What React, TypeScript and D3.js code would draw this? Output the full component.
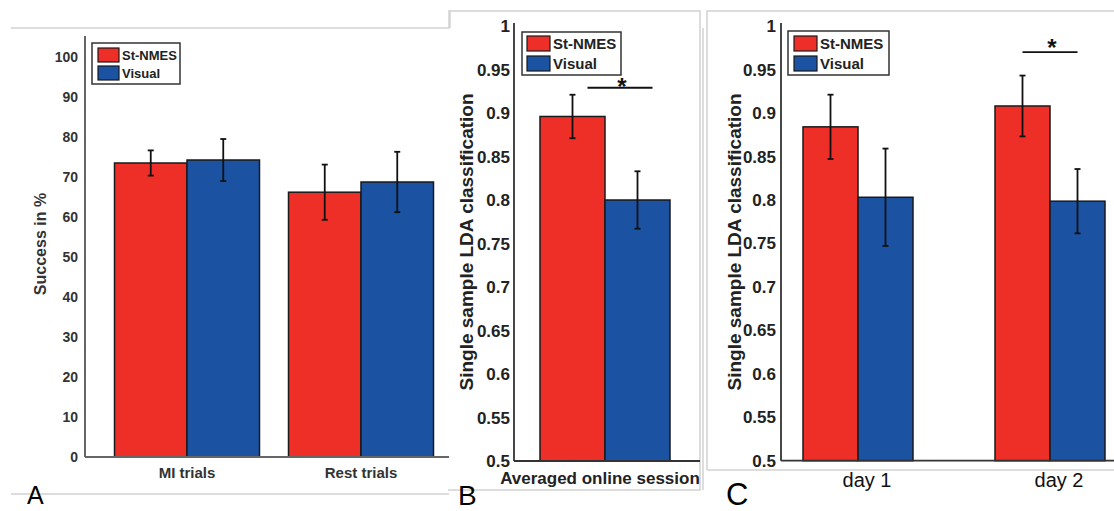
import React from "react";
import * as d3 from "d3";

// Series shared by all three panels
const SERIES = ["St-NMES", "Visual"];
const SERIES_COLORS = ["#EE2F28", "#1B52A2"];

// Panel A: success rate per trial type (mean ± error)
const trialTypes = ["MI trials", "Rest trials"];
const successStNmes = [73.5, 66.2];
const successStNmesErr = [3.15, 6.9];
const successVisual = [74.25, 68.75];
const successVisualErr = [5.25, 7.55];
const successTicks = [0, 10, 20, 30, 40, 50, 60, 70, 80, 90, 100];

// Panel B: single-sample LDA classification, averaged online session
const sessions = ["Averaged online session"];
const ldaAvgStNmes = [0.896];
const ldaAvgStNmesErr = [0.025];
const ldaAvgVisual = [0.8];
const ldaAvgVisualErr = [0.033];

// Panel C: single-sample LDA classification per day
const days = ["day 1", "day 2"];
const ldaDayStNmes = [0.884, 0.908];
const ldaDayStNmesErr = [0.037, 0.035];
const ldaDayVisual = [0.803, 0.7985];
const ldaDayVisualErr = [0.056, 0.037];

const ldaTicks = [0.5, 0.55, 0.6, 0.65, 0.7, 0.75, 0.8, 0.85, 0.9, 0.95, 1];

const FONT = "'Liberation Sans', Arial, Helvetica, sans-serif";

type Sig = { category: string; value: number; shift: number; starGap: number };

type PanelProps = {
  categories: string[];
  values: number[][];
  errors: number[][];
  ticks: number[];
  yDomain: [number, number];
  yRange: [number, number];
  axisTop: number;
  axisX: number;
  axisRight: number;
  bandRange: [number, number];
  paddingInner: number;
  paddingOuter: number;
  axisColor: string;
  axisWidth: number;
  tickColor: string;
  tickSize: number;
  tickX: number;
  legend: { x: number; y: number; w: number; h: number; sw: number; sh: number; pad: number; gap: number; font: number };
  xLabel: { y: number; size: number; weight: string; dx: number; color: string; center?: number };
  yLabel: { text: string; x: number; y: number; size: number; color: string };
  sig?: Sig;
};

function BarPanel(p: PanelProps) {
  const y = d3.scaleLinear().domain(p.yDomain).range(p.yRange);
  const x = d3
    .scaleBand<string>()
    .domain(p.categories)
    .range(p.bandRange)
    .paddingInner(p.paddingInner)
    .paddingOuter(p.paddingOuter);
  const xs = d3.scaleBand<string>().domain(SERIES).range([0, x.bandwidth()]).padding(0);
  const base = y(p.yDomain[0]);
  const capHalf = 3;

  return (
    <g fontFamily={FONT}>
      {/* bars */}
      {p.categories.map((c, ci) =>
        SERIES.map((s, si) => {
          const v = p.values[si][ci];
          const bx = (x(c) ?? 0) + (xs(s) ?? 0);
          return (
            <rect
              key={c + s}
              x={bx}
              y={y(v)}
              width={xs.bandwidth()}
              height={base - y(v)}
              fill={SERIES_COLORS[si]}
              stroke="#1a1a1a"
              strokeWidth={1.5}
            />
          );
        })
      )}
      {/* error bars */}
      {p.categories.map((c, ci) =>
        SERIES.map((s, si) => {
          const v = p.values[si][ci];
          const e = p.errors[si][ci];
          const cx = (x(c) ?? 0) + (xs(s) ?? 0) + xs.bandwidth() / 2;
          return (
            <g key={"e" + c + s} stroke="#111" strokeWidth={1.8}>
              <line x1={cx} x2={cx} y1={y(v + e)} y2={y(v - e)} />
              <line x1={cx - capHalf} x2={cx + capHalf} y1={y(v + e)} y2={y(v + e)} />
              <line x1={cx - capHalf} x2={cx + capHalf} y1={y(v - e)} y2={y(v - e)} />
            </g>
          );
        })
      )}
      {/* axes */}
      <line x1={p.axisX} x2={p.axisX} y1={p.axisTop} y2={base} stroke={p.axisColor} strokeWidth={p.axisWidth} />
      <line x1={p.axisX} x2={p.axisRight} y1={base} y2={base} stroke={p.axisColor} strokeWidth={p.axisWidth} />
      {p.ticks.map((t) => (
        <text
          key={"t" + t}
          x={p.tickX}
          y={y(t)}
          dy="0.36em"
          textAnchor="end"
          fontSize={p.tickSize}
          fontWeight="bold"
          fill={p.tickColor}
        >
          {String(t)}
        </text>
      ))}
      {/* category labels */}
      {p.categories.map((c) => (
        <text
          key={"c" + c}
          x={p.xLabel.center ?? (x(c) ?? 0) + x.bandwidth() / 2 + p.xLabel.dx}
          y={p.xLabel.y}
          textAnchor="middle"
          fontSize={p.xLabel.size}
          fontWeight={p.xLabel.weight}
          fill={p.xLabel.color}
        >
          {c}
        </text>
      ))}
      {/* y label */}
      <text
        transform={`translate(${p.yLabel.x},${p.yLabel.y}) rotate(-90)`}
        dy="0.35em"
        textAnchor="middle"
        fontSize={p.yLabel.size}
        fontWeight="bold"
        fill={p.yLabel.color}
      >
        {p.yLabel.text}
      </text>
      {/* significance */}
      {p.sig && (() => {
        const sg = p.sig!;
        const gx = x(sg.category) ?? 0;
        const x1 = gx + (xs(SERIES[0]) ?? 0) + xs.bandwidth() / 2 + sg.shift;
        const x2 = gx + (xs(SERIES[1]) ?? 0) + xs.bandwidth() / 2 + sg.shift;
        const ly = y(sg.value);
        return (
          <g>
            <line x1={x1} x2={x2} y1={ly} y2={ly} stroke="#111" strokeWidth={1.8} />
            <text
              x={(x1 + x2) / 2 + 2}
              y={ly - sg.starGap}
              textAnchor="middle"
              fontSize={24}
              fontWeight="bold"
              fill="#111"
              dy="0.9em"
            >
              *
            </text>
          </g>
        );
      })()}
      {/* legend */}
      <g>
        <rect
          x={p.legend.x}
          y={p.legend.y}
          width={p.legend.w}
          height={p.legend.h}
          fill="#fff"
          stroke="#333"
          strokeWidth={1.5}
        />
        {SERIES.map((s, i) => {
          const sy = p.legend.y + p.legend.pad + i * p.legend.gap;
          return (
            <g key={"l" + s}>
              <rect
                x={p.legend.x + p.legend.pad + 1}
                y={sy}
                width={p.legend.sw}
                height={p.legend.sh}
                fill={SERIES_COLORS[i]}
                stroke="#1a1a1a"
                strokeWidth={1.2}
              />
              <text
                x={p.legend.x + p.legend.pad + p.legend.sw + 4}
                y={sy + p.legend.sh / 2}
                dy="0.36em"
                fontSize={p.legend.font}
                fontWeight="bold"
                fill="#222"
              >
                {s}
              </text>
            </g>
          );
        })}
      </g>
    </g>
  );
}

export default function App() {
  const frame = "#d2d2d2";
  return (
    <div style={{ position: "fixed", left: 0, top: 0 }}>
      <svg width={1114} height={511} style={{ display: "block", background: "#fff" }}>
        {/* panel frames */}
        <g stroke={frame} strokeWidth={1.5} fill="none">
          <path d="M11,28 H449 V10" />
          <path d="M11,494 H449" />
          <path d="M450,28 V11 H700 V490 H448" />
          <path d="M703,28 V490" />
          <path d="M707,470 V11 H1114" />
          <path d="M707,470 H1114" />
        </g>

        <BarPanel
          categories={trialTypes}
          values={[successStNmes, successVisual]}
          errors={[successStNmesErr, successVisualErr]}
          ticks={successTicks}
          yDomain={[0, 100]}
          yRange={[457, 57]}
          axisTop={36}
          axisX={85}
          axisRight={449}
          bandRange={[100, 448]}
          paddingInner={29 / 174}
          paddingOuter={1 / 12}
          axisColor="#666"
          axisWidth={2}
          tickColor="#333"
          tickSize={14}
          tickX={78}
          legend={{ x: 92, y: 43, w: 88, h: 41, sw: 21, sh: 14, pad: 5, gap: 18, font: 13 }}
          xLabel={{ y: 478, size: 15, weight: "bold", dx: 0, color: "#333" }}
          yLabel={{ text: "Success in %", x: 40, y: 244, size: 16, color: "#333" }}
        />

        <BarPanel
          categories={sessions}
          values={[ldaAvgStNmes, ldaAvgVisual]}
          errors={[ldaAvgStNmesErr, ldaAvgVisualErr]}
          ticks={ldaTicks}
          yDomain={[0.5, 1]}
          yRange={[461, 26]}
          axisTop={23}
          axisX={514}
          axisRight={700}
          bandRange={[540, 670]}
          paddingInner={0}
          paddingOuter={0}
          axisColor="#333"
          axisWidth={1.8}
          tickColor="#222"
          tickSize={17}
          tickX={510}
          legend={{ x: 522, y: 32, w: 99, h: 43, sw: 23, sh: 15, pad: 4, gap: 20, font: 15 }}
          xLabel={{ y: 484, size: 17, weight: "bold", dx: 0, color: "#222", center: 600 }}
          yLabel={{ text: "Single sample LDA classification", x: 466, y: 242, size: 19, color: "#222" }}
          sig={{ category: sessions[0], value: 0.929, shift: 15, starGap: 14 }}
        />

        <BarPanel
          categories={days}
          values={[ldaDayStNmes, ldaDayVisual]}
          errors={[ldaDayStNmesErr, ldaDayVisualErr]}
          ticks={ldaTicks}
          yDomain={[0.5, 1]}
          yRange={[460.7, 26]}
          axisTop={23}
          axisX={781}
          axisRight={1114}
          bandRange={[781, 1127]}
          paddingInner={82 / 192}
          paddingOuter={22 / 192}
          axisColor="#333"
          axisWidth={1.8}
          tickColor="#222"
          tickSize={17}
          tickX={776}
          legend={{ x: 788, y: 31, w: 101, h: 44, sw: 23, sh: 15, pad: 5, gap: 20, font: 15 }}
          xLabel={{ y: 487, size: 20, weight: "normal", dx: 9, color: "#111" }}
          yLabel={{ text: "Single sample LDA classification", x: 734, y: 242, size: 19, color: "#222" }}
          sig={{ category: days[1], value: 0.97, shift: 0, starGap: 18 }}
        />

        {/* panel letters */}
        <g fontFamily={FONT} fill="#000">
          <text x={27} y={504} fontSize={25}>A</text>
          <text x={458} y={505} fontSize={28}>B</text>
          <text x={726} y={505} fontSize={31}>C</text>
        </g>
      </svg>
    </div>
  );
}
